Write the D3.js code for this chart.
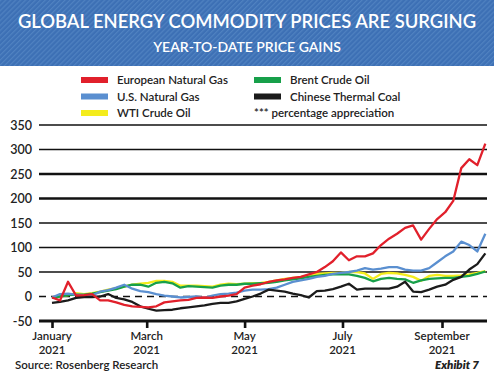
<!DOCTYPE html>
<html>
<head>
<meta charset="utf-8">
<script src="https://cdn.jsdelivr.net/npm/d3@7"></script>
<style>
    body { margin: 0; background: #fff; }
    svg text { font-family: Lato, "Open Sans", sans-serif; fill: #222; }
</style>
</head>
<body>
<div class="chart"></div>
<script>
var dates = [
    "2021-01-01", "2021-01-06", "2021-01-11", "2021-01-16", "2021-01-21", "2021-01-26",
    "2021-01-31", "2021-02-05", "2021-02-10", "2021-02-15", "2021-02-20", "2021-02-25",
    "2021-03-02", "2021-03-07", "2021-03-12", "2021-03-17", "2021-03-22", "2021-03-27",
    "2021-04-01", "2021-04-06", "2021-04-11", "2021-04-16", "2021-04-21", "2021-04-26",
    "2021-05-01", "2021-05-06", "2021-05-11", "2021-05-16", "2021-05-21", "2021-05-26",
    "2021-05-31", "2021-06-05", "2021-06-10", "2021-06-15", "2021-06-20", "2021-06-25",
    "2021-06-30", "2021-07-05", "2021-07-10", "2021-07-15", "2021-07-20", "2021-07-25",
    "2021-07-30", "2021-08-04", "2021-08-09", "2021-08-14", "2021-08-19", "2021-08-24",
    "2021-08-29", "2021-09-03", "2021-09-08", "2021-09-13", "2021-09-18", "2021-09-23",
    "2021-09-28"
];

var euroGas = [-2, -8, 30, 2, 3, 5, -8, -8, -12, -17, -20, -21, -22, -20, -12, -10, -8, -7,
    -3, -2, -3, 0, 2, 5, 18, 22, 25, 30, 33, 35, 38, 40, 45, 50, 60, 72, 90, 74, 82, 82, 88,
    105, 118, 128, 140, 145, 116, 138, 158, 172, 195, 262, 280, 268, 312];

var usGas = [-2, 5, 6, 4, 3, 2, 10, 13, 18, 24, 16, 11, 9, 5, 2, 0, -2, -1, 0, -3, 2, 5, 6,
    8, 12, 14, 14, 15, 18, 24, 30, 33, 36, 40, 42, 46, 48, 50, 53, 58, 55, 57, 60, 60, 55,
    53, 53, 58, 70, 82, 92, 112, 105, 92, 128];

var wtiOil = [-3, 0, 3, 7, 5, 7, 10, 14, 17, 20, 24, 26, 28, 32, 32, 30, 22, 22, 22, 21, 20,
    24, 26, 25, 26, 27, 28, 30, 33, 36, 38, 40, 43, 46, 47, 48, 48, 50, 50, 47, 36, 46, 48,
    47, 44, 40, 32, 42, 44, 42, 42, 43, 45, 48, 52];

var brentOil = [-3, 0, 3, 4, 4, 6, 9, 12, 15, 20, 24, 24, 20, 28, 30, 27, 18, 21, 20, 19, 18,
    22, 24, 24, 26, 26, 27, 28, 30, 33, 35, 37, 40, 42, 44, 45, 45, 45, 42, 38, 31, 36, 38,
    36, 35, 28, 33, 36, 37, 38, 38, 40, 42, 46, 51];

var chinaCoal = [-13, -11, -8, -3, -1, -1, 0, 5, -3, -6, -11, -20, -25, -29, -28, -27, -24,
    -22, -20, -18, -15, -13, -13, -10, -5, 0, 6, 14, 12, 10, 6, 3, -2, 11, 12, 15, 20, 26,
    14, 16, 16, 16, 16, 20, 30, 10, 9, 14, 20, 24, 34, 40, 55, 66, 88];

var yTicks = [-50, 0, 50, 100, 150, 200, 250, 300, 350];
var monthTicks = ["2021-01-01", "2021-03-01", "2021-05-01", "2021-07-01", "2021-09-01"];
var monthNames = ["January", "March", "May", "July", "September"];

var series = [
    { name: "WTI Crude Oil", color: "#f4ec1c", values: wtiOil },
    { name: "Brent Crude Oil", color: "#17a04a", values: brentOil },
    { name: "U.S. Natural Gas", color: "#5a8fd0", values: usGas },
    { name: "Chinese Thermal Coal", color: "#1b1b1b", values: chinaCoal },
    { name: "European Natural Gas", color: "#e1202b", values: euroGas }
];

var legendRows = [
    ["European Natural Gas", "Brent Crude Oil"],
    ["U.S. Natural Gas", "Chinese Thermal Coal"],
    ["WTI Crude Oil", null]
];

// ==================================

var W = 494, H = 384;
var parse = d3.timeParse("%Y-%m-%d");

var svg = d3.select(".chart")
            .append("svg")
            .attr("width", W)
            .attr("height", H);

// title banner with diagonal stripes
var defs = svg.append("defs");
var pat = defs.append("pattern")
    .attr("id", "stripes")
    .attr("width", 3.5)
    .attr("height", 3.5)
    .attr("patternUnits", "userSpaceOnUse")
    .attr("patternTransform", "rotate(45)");
pat.append("rect").attr("width", 3.5).attr("height", 3.5).attr("fill", "#3d70b5");
pat.append("rect").attr("width", 1.2).attr("height", 3.5).attr("fill", "#5082c1");

svg.append("rect")
    .attr("x", 0).attr("y", 0)
    .attr("width", W).attr("height", 66)
    .attr("fill", "url(#stripes)");

svg.append("text")
    .attr("x", W / 2).attr("y", 28)
    .attr("text-anchor", "middle")
    .style("fill", "#fff")
    .style("font-size", "18.4px")
    .style("font-weight", 600)
    .text("GLOBAL ENERGY COMMODITY PRICES ARE SURGING");

svg.append("text")
    .attr("x", W / 2).attr("y", 52)
    .attr("text-anchor", "middle")
    .style("fill", "#fff")
    .style("font-size", "14px")
    .style("font-weight", 600)
    .text("YEAR-TO-DATE PRICE GAINS");

// legend
var colorOf = {};
series.forEach(function(s) { colorOf[s.name] = s.color; });

var legend = svg.append("g");
legendRows.forEach(function(row, r) {
    row.forEach(function(name, c) {
        var lx = c === 0 ? 81 : 254;
        var ly = 80 + r * 16.5;
        if (name === null) {
            legend.append("text")
                .attr("x", lx).attr("y", ly + 4)
                .style("font-size", "11.5px")
                .style("font-weight", 600)
                .text("*** percentage appreciation");
            return;
        }
        legend.append("rect")
            .attr("x", lx).attr("y", ly - 3)
            .attr("width", 27).attr("height", 6)
            .attr("fill", colorOf[name]);
        legend.append("text")
            .attr("x", lx + 36).attr("y", ly + 4)
            .style("font-size", "11.5px")
            .style("font-weight", 600)
            .text(name);
    });
});

// scales
var x = d3.scaleTime()
    .domain([parse("2021-01-01"), parse("2021-09-01")])
    .range([52, 442]);

var y = d3.scaleLinear()
    .domain([-50, 350])
    .range([321, 125]);

var left = 39, right = 487;

// gridlines
svg.append("g")
    .selectAll("line")
    .data(yTicks.filter(function(d) { return d !== 0 && d !== -50; }))
    .enter().append("line")
    .attr("x1", left).attr("x2", right)
    .attr("y1", function(d) { return y(d); })
    .attr("y2", function(d) { return y(d); })
    .attr("stroke", "#111")
    .attr("stroke-width", function(d) {
        return (d === 200 || d === 250) ? 2.4 : 1.4;
    });

// dashed zero line
svg.append("line")
    .attr("x1", left).attr("x2", right)
    .attr("y1", y(0)).attr("y2", y(0))
    .attr("stroke", "#111")
    .attr("stroke-width", 1.6)
    .attr("stroke-dasharray", "7,5");

// y labels
svg.append("g")
    .selectAll("text")
    .data(yTicks)
    .enter().append("text")
    .attr("x", 32)
    .attr("y", function(d) { return y(d) + 4.5; })
    .attr("text-anchor", "end")
    .style("font-size", "12.5px")
    .style("font-weight", 600)
    .text(function(d) { return d; });

// x axis
var xAxis = d3.axisBottom(x)
    .tickValues(monthTicks.map(parse))
    .tickSize(7)
    .tickFormat("");

var xg = svg.append("g")
    .attr("transform", "translate(0," + y(-50) + ")")
    .call(xAxis);
xg.select(".domain").remove();
xg.selectAll(".tick line").attr("stroke", "#111").attr("stroke-width", 2.6);

svg.append("line")
    .attr("x1", left).attr("x2", right)
    .attr("y1", y(-50)).attr("y2", y(-50))
    .attr("stroke", "#111")
    .attr("stroke-width", 3);

var labels = svg.append("g")
    .selectAll("text")
    .data(monthTicks)
    .enter().append("text")
    .attr("text-anchor", "middle")
    .style("font-size", "11.5px")
    .style("font-weight", 600);
labels.append("tspan")
    .attr("x", function(d) { return x(parse(d)); })
    .attr("y", 340)
    .text(function(d, i) { return monthNames[i]; });
labels.append("tspan")
    .attr("x", function(d) { return x(parse(d)); })
    .attr("y", 353.5)
    .text("2021");

// lines
var line = d3.line()
    .x(function(d, i) { return x(parse(dates[i])); })
    .y(function(d) { return y(d); })
    .curve(d3.curveLinear);

svg.append("g")
    .selectAll("path")
    .data(series)
    .enter().append("path")
    .attr("d", function(s) { return line(s.values); })
    .attr("fill", "none")
    .attr("stroke", function(s) { return s.color; })
    .attr("stroke-width", 2.3)
    .attr("stroke-linejoin", "round");

// footer
svg.append("text")
    .attr("x", 15).attr("y", 368.5)
    .style("font-size", "11.5px")
    .style("font-weight", 600)
    .text("Source: Rosenberg Research");

svg.append("text")
    .attr("x", 479).attr("y", 368.5)
    .attr("text-anchor", "end")
    .style("font-size", "11.5px")
    .style("font-weight", 800)
    .style("font-style", "italic")
    .text("Exhibit 7");
</script>
</body>
</html>
